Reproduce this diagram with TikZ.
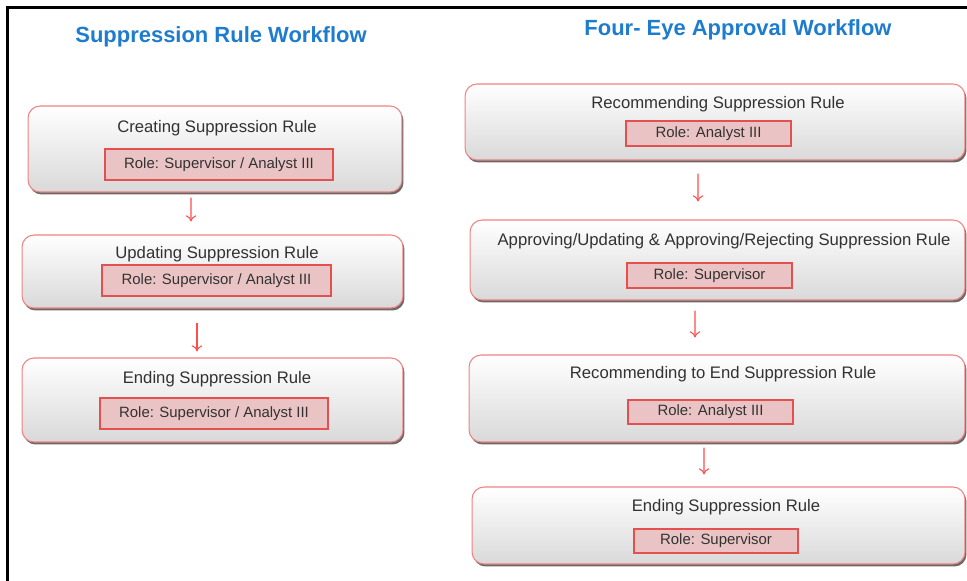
\documentclass[tikz,border=0pt]{standalone}
\usepackage{fontspec}
\setmainfont{Liberation Sans}
\usetikzlibrary{shadows,arrows.meta}

\definecolor{titleBlue}{RGB}{30,124,206}
\definecolor{edgeRed}{RGB}{240,130,130}
\definecolor{roleEdge}{RGB}{228,80,80}
\definecolor{roleFill}{RGB}{234,196,196}
\definecolor{textGray}{RGB}{50,50,50}

\begin{document}
\begin{tikzpicture}[
    x=0.02cm, y=-0.02cm,
    >={To[length=3.5pt, width=6pt]},
    every node/.style={align=center, inner sep=0pt, text=textGray},
    heading/.style={font=\fontsize{12.5}{15}\selectfont\bfseries, text=titleBlue},
    stage/.style={rectangle, rounded corners=0.24cm, draw=edgeRed, line width=0.6pt, top color=white, bottom color=gray!30, drop shadow={shadow xshift=0.03cm, shadow yshift=-0.05cm, fill=black!65, opacity=0.9}},
    stageText/.style={font=\fontsize{9.5}{11}\selectfont},
    role/.style={rectangle, draw=roleEdge, line width=0.8pt, fill=roleFill, font=\fontsize{8.5}{10}\selectfont},
    flow/.style={->, draw=red!70, line width=0.6pt}
]
\useasboundingbox (0,0) rectangle (967,581);

% Frame
\draw[line width=1.7pt] (7.5,581) -- (7.5,7.5) -- (967,7.5);

% Headings
\node[heading] (h1) at (221,37) {Suppression Rule Workflow};
\node[heading] (h2) at (738,30) {Four- Eye Approval Workflow};

% Nodes: suppression rule workflow
\node[stage, minimum width=7.48cm, minimum height=1.72cm] (s1) at (215,149) {};
\node[stageText] (t1) at (217,128) {Creating Suppression Rule};
\node[role, minimum width=4.56cm, minimum height=0.62cm] (r1) at (219,164.5) {Role: Supervisor / Analyst III};

\node[stage, minimum width=7.62cm, minimum height=1.46cm] (s2) at (212.5,271.5) {};
\node[stageText] (t2) at (217,254) {Updating Suppression Rule};
\node[role, minimum width=4.58cm, minimum height=0.62cm] (r2) at (216.5,280.5) {Role: Supervisor / Analyst III};

\node[stage, minimum width=7.62cm, minimum height=1.68cm] (s3) at (212.5,400) {};
\node[stageText] (t3) at (217,379) {Ending Suppression Rule};
\node[role, minimum width=4.56cm, minimum height=0.62cm] (r3) at (214,413.5) {Role: Supervisor / Analyst III};

% Nodes: four-eye approval workflow
\node[stage, minimum width=10cm, minimum height=1.52cm] (q1) at (715,122) {};
\node[stageText] (u1) at (718,104) {Recommending Suppression Rule};
\node[role, minimum width=3.3cm, minimum height=0.5cm] (p1) at (708.5,133.5) {Role: Analyst III};

\node[stage, minimum width=9.9cm, minimum height=1.6cm] (q2) at (717.5,260) {};
\node[stageText] (u2) at (724,241) {Approving/Updating \& Approving/Rejecting Suppression Rule};
\node[role, minimum width=3.3cm, minimum height=0.5cm] (p2) at (709.5,275.5) {Role: Supervisor};

\node[stage, minimum width=9.92cm, minimum height=1.74cm] (q3) at (717,398.5) {};
\node[stageText] (u3) at (723,374) {Recommending to End Suppression Rule};
\node[role, minimum width=3.3cm, minimum height=0.48cm] (p3) at (710.5,412) {Role: Analyst III};

\node[stage, minimum width=9.86cm, minimum height=1.54cm] (q4) at (718.5,525.5) {};
\node[stageText] (u4) at (726,507) {Ending Suppression Rule};
\node[role, minimum width=3.28cm, minimum height=0.48cm] (p4) at (716,541) {Role: Supervisor};

% Arrows
\draw[flow, shorten <=0.1cm, shorten >=0.26cm] ([xshift=-0.48cm]s1.south) -- ([xshift=-0.43cm]s2.north);
\draw[flow, shorten <=0.28cm, shorten >=0.12cm] ([xshift=-0.31cm]s2.south) -- ([xshift=-0.31cm]s3.north);
\draw[flow, shorten <=0.26cm, shorten >=0.36cm] ([xshift=-0.34cm]q1.south) -- ([xshift=-0.39cm]q2.north);
\draw[flow, shorten <=0.2cm, shorten >=0.34cm] ([xshift=-0.45cm]q2.south) -- ([xshift=-0.44cm]q3.north);
\draw[flow, shorten <=0.1cm, shorten >=0.24cm] ([xshift=-0.26cm]q3.south) -- ([xshift=-0.29cm]q4.north);

\end{tikzpicture}
\end{document}
